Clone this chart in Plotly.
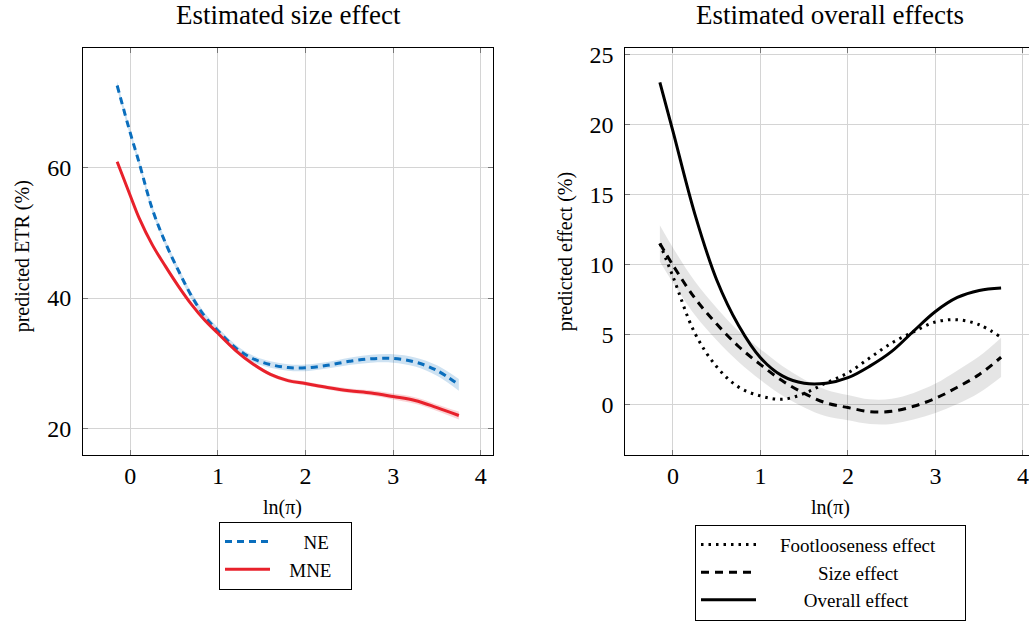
import plotly.graph_objects as go

W, H = 1029, 621

# ---------------- data: left panel (Estimated size effect) ----------------
x_left = [-0.15, 0.0, 0.1, 0.25, 0.4, 0.55, 0.7, 0.85, 1.0, 1.2, 1.4, 1.6, 1.8,
          2.0, 2.25, 2.5, 2.75, 3.0, 3.25, 3.5, 3.75]
ne = [72.6, 65.3, 60.8, 53.7, 48.5, 44.2, 40.3, 37.2, 35.0, 32.4, 30.7, 29.8, 29.35,
      29.3, 29.7, 30.3, 30.7, 30.75, 30.2, 28.9, 26.7]
ne_lo = [72.0, 64.8, 60.3, 53.2, 48.0, 43.7, 39.8, 36.7, 34.5, 31.9, 30.2, 29.3, 28.85,
         28.8, 29.2, 29.75, 30.1, 30.1, 29.5, 28.1, 25.8]
ne_hi = [73.2, 65.8, 61.3, 54.2, 49.0, 44.7, 40.8, 37.7, 35.5, 32.9, 31.2, 30.3, 29.85,
         29.8, 30.2, 30.85, 31.3, 31.4, 30.9, 29.7, 27.6]
mne = [60.9, 55.7, 52.3, 48.2, 44.9, 41.8, 39.0, 36.6, 34.6, 32.0, 29.9, 28.3, 27.35,
       26.9, 26.3, 25.8, 25.45, 24.9, 24.3, 23.2, 22.0]
mne_lo = [60.6, 55.4, 52.0, 47.9, 44.6, 41.5, 38.7, 36.3, 34.3, 31.7, 29.6, 28.0, 27.05,
          26.6, 26.0, 25.45, 25.05, 24.45, 23.8, 22.7, 21.4]
mne_hi = [61.2, 56.0, 52.6, 48.5, 45.2, 42.1, 39.3, 36.9, 34.9, 32.3, 30.2, 28.6, 27.65,
          27.2, 26.6, 26.15, 25.85, 25.35, 24.8, 23.7, 22.6]

# ---------------- data: right panel (Estimated overall effects) ----------------
x_right = [-0.15, 0.0, 0.25, 0.5, 0.75, 1.0, 1.25, 1.5, 1.75, 2.0, 2.25, 2.5, 2.75,
           3.0, 3.25, 3.5, 3.75]
footloose = [11.5, 9.14, 5.1, 2.7, 1.25, 0.62, 0.38, 0.8, 1.55, 2.27, 3.34, 4.4, 5.2,
             5.9, 6.06, 5.7, 4.8]
size_eff = [11.5, 9.95, 7.6, 5.75, 4.15, 2.86, 1.7, 0.8, 0.12, -0.21, -0.5, -0.48, -0.12,
            0.45, 1.24, 2.15, 3.38]
size_lo = [10.2, 8.7, 6.4, 4.6, 3.05, 1.76, 0.65, -0.2, -0.83, -1.11, -1.38, -1.38, -1.07,
           -0.6, 0.04, 0.85, 1.98]
size_hi = [12.8, 11.2, 8.8, 6.9, 5.25, 3.96, 2.75, 1.8, 1.07, 0.69, 0.38, 0.42, 0.83,
           1.5, 2.44, 3.45, 4.78]
overall = [23.0, 19.5, 13.6, 8.9, 5.65, 3.35, 2.05, 1.52, 1.52, 1.92, 2.75, 3.8, 5.25,
           6.65, 7.65, 8.15, 8.32]

x_ticks = [0, 1, 2, 3, 4]
y_ticks_left = [20, 40, 60]
y_ticks_right = [0, 5, 10, 15, 20, 25]

left_names = ["NE", "MNE"]
right_names = ["Footlooseness effect", "Size effect", "Overall effect"]

BLUE = "#0a6ebd"
RED = "#e8212b"
FONT = "Liberation Serif"
SP = "\u00a0"

fig = go.Figure()

def band(x, lo, hi, color, xa, ya):
    fig.add_trace(go.Scatter(x=x, y=lo, mode="lines", line=dict(width=0, shape="spline"),
                             hoverinfo="skip", showlegend=False, xaxis=xa, yaxis=ya))
    fig.add_trace(go.Scatter(x=x, y=hi, mode="lines", line=dict(width=0, shape="spline"),
                             fill="tonexty", fillcolor=color, hoverinfo="skip",
                             showlegend=False, xaxis=xa, yaxis=ya))

# left panel
band(x_left, ne_lo, ne_hi, "rgba(10,110,189,0.2)", "x", "y")
band(x_left, mne_lo, mne_hi, "rgba(232,33,43,0.2)", "x", "y")
fig.add_trace(go.Scatter(x=x_left, y=ne, mode="lines", name=SP * 6 + left_names[0],
                         line=dict(color=BLUE, width=3, dash="7px,5px", shape="spline"),
                         legend="legend", legendgroup="ne"))
fig.add_trace(go.Scatter(x=x_left, y=mne, mode="lines", name=SP * 3 + left_names[1] + SP * 3,
                         line=dict(color=RED, width=3, shape="spline"),
                         legend="legend", legendgroup="mne"))

# right panel
band(x_right, size_lo, size_hi, "rgba(0,0,0,0.1)", "x2", "y2")
fig.add_trace(go.Scatter(x=x_right, y=footloose, mode="lines",
                         name=SP * 4 + right_names[0] + SP * 5,
                         line=dict(color="black", width=3, dash="2.5px,5px", shape="spline"),
                         xaxis="x2", yaxis="y2", legend="legend2", legendgroup="f"))
fig.add_trace(go.Scatter(x=x_right, y=size_eff, mode="lines",
                         name=SP * 12 + right_names[1],
                         line=dict(color="black", width=3, dash="8px,6px", shape="spline"),
                         xaxis="x2", yaxis="y2", legend="legend2", legendgroup="s"))
fig.add_trace(go.Scatter(x=x_right, y=overall, mode="lines",
                         name=SP * 9 + right_names[2],
                         line=dict(color="black", width=3, shape="spline"),
                         xaxis="x2", yaxis="y2", legend="legend2", legendgroup="o"))

def px_x(p):
    return p / W

def px_y(p):
    return 1 - p / H

ydom = [px_y(458), px_y(48)]
axis_common = dict(showgrid=True, gridcolor="#d4d4d4", gridwidth=1, zeroline=False,
                   showline=True, linecolor="black", linewidth=1, automargin=False,
                   ticks="inside", ticklen=5, tickcolor="#777777", tickwidth=1,
                   tickfont=dict(family=FONT, size=24, color="black"))

fig.update_layout(
    template="none",
    width=W, height=H, autosize=False,
    margin=dict(l=0, r=0, t=0, b=0, pad=0),
    paper_bgcolor="white", plot_bgcolor="white",
    xaxis=dict(domain=[px_x(83), px_x(493)], range=[-0.54, 4.14], tickvals=x_ticks,
               mirror="allticks", anchor="y", ticklabelstandoff=-1, **axis_common),
    yaxis=dict(domain=ydom, range=[15.93, 78.4], tickvals=y_ticks_left,
               mirror="allticks", anchor="x", ticklabelstandoff=6, **axis_common),
    xaxis2=dict(domain=[px_x(625.3), 1.0], range=[-0.545, 4.069], tickvals=x_ticks,
                mirror="ticks", anchor="y2", ticklabelstandoff=-1, **axis_common),
    yaxis2=dict(domain=ydom, range=[-3.6, 25.48], tickvals=y_ticks_right,
                mirror=False, anchor="x2", ticklabelstandoff=6, **axis_common),
    legend=dict(x=px_x(219), y=px_y(525), xanchor="left", yanchor="top",
                bordercolor="black", borderwidth=1, bgcolor="white",
                font=dict(family=FONT, size=19, color="black"),
                traceorder="grouped", tracegroupgap=0, itemwidth=45),
    legend2=dict(x=px_x(695), y=px_y(528), xanchor="left", yanchor="top",
                 bordercolor="black", borderwidth=1, bgcolor="white",
                 font=dict(family=FONT, size=19, color="black"),
                 traceorder="grouped", tracegroupgap=0, itemwidth=55),
)

ann_font = dict(family=FONT, color="black")
annotations = [
    dict(text="Estimated size effect", x=px_x(288), y=px_y(15), font=dict(size=27, **ann_font)),
    dict(text="Estimated overall effects", x=px_x(830), y=px_y(15), font=dict(size=27, **ann_font)),
    dict(text="ln(π)", x=px_x(282), y=px_y(511), font=dict(size=20, **ann_font)),
    dict(text="ln(π)", x=px_x(830), y=px_y(511), font=dict(size=20, **ann_font)),
    dict(text="predicted ETR (%)", x=px_x(22), y=px_y(258), textangle=-90,
         font=dict(size=20, **ann_font)),
    dict(text="predicted effect (%)", x=px_x(565), y=px_y(253), textangle=-90,
         font=dict(size=20, **ann_font)),
]
for a in annotations:
    a.update(xref="paper", yref="paper", showarrow=False, xanchor="center", yanchor="middle")
fig.update_layout(annotations=annotations)

fig.write_html("out.html", config={"displayModeBar": False},
               post_script="document.body.style.margin='0';document.body.style.overflow='hidden';")
